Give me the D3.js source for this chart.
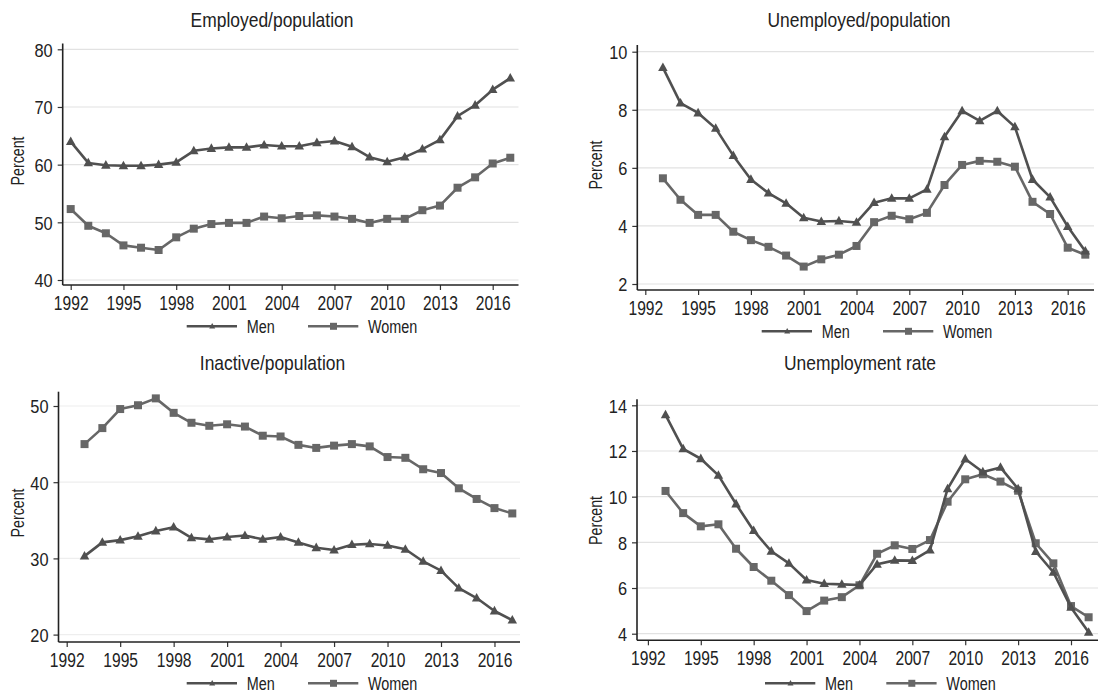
<!DOCTYPE html>
<html>
<head>
<meta charset="utf-8">
<script src="https://cdn.jsdelivr.net/npm/d3@7"></script>
<style>
  html, body { margin: 0; padding: 0; background: #fff; }
  svg { display: block; }
  text { font-family: "Liberation Sans", Arial, sans-serif; fill: #222; }
</style>
</head>
<body>
<svg id="chart" width="1100" height="693"></svg>
<script>
// ---- data -------------------------------------------------------------
const yearsFrom1992 = [1992,1993,1994,1995,1996,1997,1998,1999,2000,2001,2002,2003,2004,
                       2005,2006,2007,2008,2009,2010,2011,2012,2013,2014,2015,2016,2017];
const yearsFrom1993 = [1993,1994,1995,1996,1997,1998,1999,2000,2001,2002,2003,2004,
                       2005,2006,2007,2008,2009,2010,2011,2012,2013,2014,2015,2016,2017];
const xTickYears = [1992,1995,1998,2001,2004,2007,2010,2013,2016];

const employedMen   = [64.0,60.3,59.9,59.8,59.8,60.0,60.4,62.4,62.8,63.0,63.0,63.4,63.2,
                       63.2,63.8,64.1,63.1,61.3,60.5,61.3,62.7,64.3,68.4,70.3,73.0,75.0];
const employedWomen = [52.3,49.4,48.1,46.0,45.6,45.2,47.4,48.9,49.7,49.9,49.9,51.0,50.7,
                       51.1,51.2,51.0,50.6,49.9,50.6,50.6,52.1,52.9,56.0,57.8,60.2,61.2];

const unemployedMen   = [9.45,8.23,7.89,7.36,6.42,5.60,5.13,4.78,4.28,4.15,4.17,4.12,
                         4.80,4.95,4.95,5.26,7.07,7.96,7.62,7.96,7.41,5.60,4.99,3.98,3.13];
const unemployedWomen = [5.64,4.90,4.38,4.38,3.80,3.51,3.28,2.98,2.60,2.85,3.01,3.31,
                         4.13,4.35,4.23,4.45,5.41,6.10,6.24,6.21,6.04,4.83,4.41,3.25,3.01];

const inactiveMen   = [30.3,32.1,32.4,32.9,33.6,34.1,32.7,32.5,32.8,33.0,32.5,32.8,
                       32.1,31.4,31.1,31.8,31.9,31.7,31.2,29.6,28.4,26.1,24.8,23.1,21.9];
const inactiveWomen = [45.0,47.1,49.6,50.1,51.0,49.1,47.8,47.4,47.6,47.3,46.1,46.0,
                       44.9,44.5,44.8,45.0,44.7,43.3,43.2,41.7,41.2,39.2,37.8,36.6,35.9];

const rateMen   = [13.58,12.09,11.66,10.93,9.68,8.51,7.61,7.08,6.35,6.19,6.16,6.13,
                   7.04,7.21,7.20,7.66,10.34,11.65,11.08,11.28,10.34,7.60,6.69,5.15,4.06];
const rateWomen = [10.25,9.28,8.70,8.79,7.72,6.92,6.32,5.69,4.99,5.45,5.60,6.12,
                   7.50,7.87,7.71,8.10,9.78,10.76,10.98,10.66,10.26,7.96,7.08,5.21,4.72];

const titles = ["Employed/population", "Unemployed/population", "Inactive/population", "Unemployment rate"];
const yTickSets = [[40,50,60,70,80], [2,4,6,8,10], [20,30,40,50], [4,6,8,10,12,14]];
const seriesNames = ["Men", "Women"];

const panelData = [
  { years: yearsFrom1992, men: employedMen,   women: employedWomen },
  { years: yearsFrom1993, men: unemployedMen, women: unemployedWomen },
  { years: yearsFrom1993, men: inactiveMen,   women: inactiveWomen },
  { years: yearsFrom1993, men: rateMen,       women: rateWomen }
];

// ---- layout of the four sub-graphs -----------------------------------
// x: two reference years and their pixel positions; y: the tick range and its pixels
const layout = [
  { xd: [1992, 2016], xr: [70.7, 492.7], left: 62.7, right: 518.5, top: 43.5, bottom: 285,
    yr: [280, 49.3], titleX: 272, titleY: 27, labelX: 17, labelY: 161, legendX: 186.7, legendY: 326.3 },
  { xd: [1992, 2016], xr: [645.3, 1067.7], left: 637.3, right: 1094, top: 45, bottom: 290,
    yr: [284, 51.7], titleX: 859, titleY: 27, labelX: 594.5, labelY: 165, legendX: 761.7, legendY: 331.3 },
  { xd: [1992, 2017], xr: [66.7, 512.3], left: 58.5, right: 520, top: 391.7, bottom: 642,
    yr: [634.6, 406], titleX: 272.5, titleY: 369.5, labelX: 17, labelY: 513, legendX: 186.7, legendY: 683.3 },
  { xd: [1992, 2016], xr: [647.9, 1071], left: 637, right: 1098, top: 399.3, bottom: 640.3,
    yr: [633.7, 405.3], titleX: 860, titleY: 369.5, labelX: 594.5, labelY: 520.5, legendX: 765, legendY: 683.3 }
];

const style = {
  men:   { color: "#505050", marker: "triangle" },
  women: { color: "#676767", marker: "square" }
};

const svg = d3.select("#chart");

// squeeze text horizontally to a condensed face
function condense(sel, ratio) {
  sel.each(function () {
    const w = this.getComputedTextLength();
    d3.select(this).attr("textLength", w * ratio).attr("lengthAdjust", "spacingAndGlyphs");
  });
}

function markerPath(kind, s) {
  if (kind === "triangle") {
    const h = s * 0.9;
    return `M0,${-h * 0.6}L${s / 2},${h * 0.4}L${-s / 2},${h * 0.4}Z`;
  }
  const a = s / 2;
  return `M${-a},${-a}H${a}V${a}H${-a}Z`;
}

panelData.forEach((d, i) => {
  const L = layout[i];
  const yTicks = yTickSets[i];
  const x = d3.scaleLinear().domain(L.xd).range(L.xr);
  const y = d3.scaleLinear().domain([yTicks[0], yTicks[yTicks.length - 1]]).range(L.yr);
  const g = svg.append("g");

  // horizontal grid
  g.append("g").selectAll("line").data(yTicks).join("line")
    .attr("x1", L.left).attr("x2", L.right)
    .attr("y1", v => y(v)).attr("y2", v => y(v))
    .attr("stroke", i === 2 ? "#eeeeee" : "#e2e2e2").attr("stroke-width", 1.2);

  // y axis
  const yAxis = g.append("g").attr("transform", `translate(${L.left},0)`)
    .call(d3.axisLeft(y).tickValues(yTicks).tickSize(5).tickPadding(5).tickFormat(d3.format("d")));
  yAxis.select(".domain").remove();
  yAxis.selectAll(".tick line").attr("stroke", "#333").attr("stroke-width", 1.2);
  yAxis.selectAll(".tick text").attr("font-size", 19).attr("fill", "#2a2a2a")
    .attr("font-family", null).attr("dy", "0.36em").call(condense, 0.86);
  g.append("line").attr("x1", L.left).attr("x2", L.left).attr("y1", L.top).attr("y2", L.bottom)
    .attr("stroke", "#222").attr("stroke-width", 1.6);

  // x axis
  const xAxis = g.append("g").attr("transform", `translate(0,${L.bottom})`)
    .call(d3.axisBottom(x).tickValues(xTickYears).tickSize(5).tickPadding(6).tickFormat(d3.format("d")));
  xAxis.select(".domain").remove();
  xAxis.selectAll(".tick line").attr("stroke", "#333").attr("stroke-width", 1.2);
  xAxis.selectAll(".tick text").attr("font-size", 20).attr("fill", "#2a2a2a")
    .attr("font-family", null).call(condense, 0.78);
  g.append("line").attr("x1", L.left).attr("x2", L.right).attr("y1", L.bottom).attr("y2", L.bottom)
    .attr("stroke", "#222").attr("stroke-width", 1.6);

  // series: women first so men sit on top
  [["women", d.women], ["men", d.men]].forEach(([key, vals]) => {
    const pts = d.years.map((yr, k) => [yr, vals[k]]);
    const line = d3.line().x(p => x(p[0])).y(p => y(p[1]));
    g.append("path").datum(pts).attr("d", line)
      .attr("fill", "none").attr("stroke", style[key].color).attr("stroke-width", 2.6)
      .attr("stroke-linejoin", "round");
    g.append("g").selectAll("path").data(pts).join("path")
      .attr("transform", p => `translate(${x(p[0])},${y(p[1])})`)
      .attr("d", markerPath(style[key].marker, style[key].marker === "triangle" ? 9.5 : 8))
      .attr("fill", style[key].color);
  });

  // title and y label
  g.append("text").attr("x", L.titleX).attr("y", L.titleY).attr("text-anchor", "middle")
    .attr("font-size", 21).text(titles[i]).call(condense, 0.83);
  g.append("text").attr("transform", `translate(${L.labelX + 7},${L.labelY}) rotate(-90)`)
    .attr("text-anchor", "middle").attr("font-size", 18).text("Percent").call(condense, 0.79);

  // legend
  const lg = g.append("g").attr("transform", `translate(${L.legendX},${L.legendY})`);
  [["men", 0], ["women", 121.3]].forEach(([key, off], k) => {
    lg.append("line").attr("x1", off).attr("x2", off + 50.3).attr("y1", 0).attr("y2", 0)
      .attr("stroke", style[key].color).attr("stroke-width", 2.6);
    lg.append("path").attr("transform", `translate(${off + 25.5},0)`)
      .attr("d", markerPath(style[key].marker, style[key].marker === "triangle" ? 6 : 7))
      .attr("fill", style[key].color);
    lg.append("text").attr("x", off + 60).attr("y", 6.8).attr("font-size", 18)
      .text(seriesNames[k]).call(condense, 0.8);
  });
});
</script>
</body>
</html>
